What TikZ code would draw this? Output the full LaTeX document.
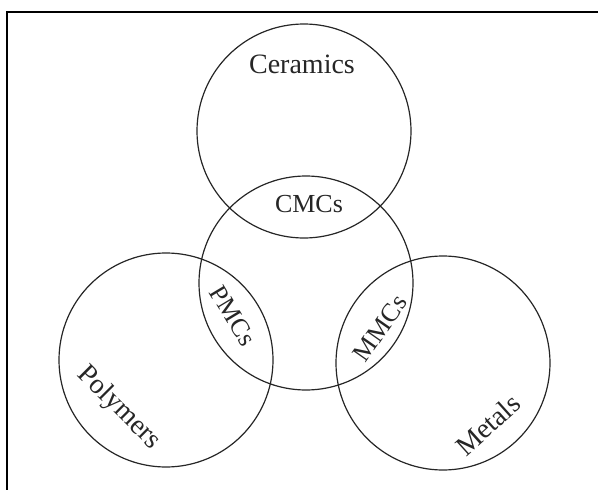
\documentclass[tikz,border=0pt]{standalone}
\usepackage{fontspec}
\setmainfont{Liberation Serif}
\begin{document}
\begin{tikzpicture}[x=1pt,y=-1pt,
  ring/.style={draw=black!85,line width=1.2pt,circle,minimum size=214pt,inner sep=0pt},
  lab/.style={font=\fontsize{28}{30}\selectfont,inner sep=0pt,text=black!85},
  framed/.style={draw=black,line width=2pt}]
\useasboundingbox (0,0) rectangle (598,490);
\coordinate (ftr) at (598,12);
\coordinate (ftl) at (7,12);
\coordinate (fbl) at (7,490);
\draw[framed] (ftr) -- (ftl) -- (fbl);
\node[ring] (cer) at (304,131) {};
\node[ring] (mid) at (306,283) {};
\node[ring] (pol) at (166,360) {};
\node[ring] (met) at (443,363) {};
\node[lab] (tcer) at (302,64) {Ceramics};
\node[lab,font=\fontsize{26}{28}\selectfont] (tcmc) at (309,204) {CMCs};
\node[lab,font=\fontsize{26}{28}\selectfont,rotate=-59] (tpmc) at (233,316) {PMCs};
\node[lab,font=\fontsize{26}{28}\selectfont,rotate=55] (tmmc) at (380,328) {MMCs};
\node[lab,rotate=-45] (tpol) at (119,408) {Polymers};
\node[lab,rotate=42] (tmet) at (488,425) {Metals};
\end{tikzpicture}
\end{document}
